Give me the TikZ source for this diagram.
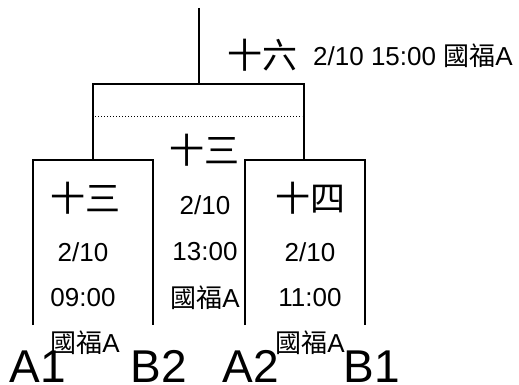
\documentclass[tikz,border=0pt]{standalone}
\usepackage{fontspec}
\setmainfont{Liberation Sans}
\newfontfamily\cjk{Noto Sans CJK TC}
\newcommand{\gf}{{\fontsize{26}{26}\selectfont\cjk 國福}A}
\begin{document}
\begin{tikzpicture}[x=1pt,y=-1pt,
  ln/.style={line width=1.3pt},
  txt/.style={inner sep=0pt,font=\fontsize{26}{26}\selectfont},
  big/.style={inner sep=0pt,font=\fontsize{35}{35}\selectfont\cjk},
  small/.style={inner sep=0pt,font=\fontsize{26}{26}\selectfont},
  huge/.style={inner sep=0pt,anchor=base,font=\fontsize{46}{46}\selectfont}]
\useasboundingbox (0,0) rectangle (519,385);
% bracket
\coordinate (root) at (199,8);
\coordinate (rootb) at (199,84);
\coordinate (bl) at (93,84);
\coordinate (br) at (304,84);
\coordinate (bld) at (93,159);
\coordinate (brd) at (304,159);
\draw[ln] (root) -- (rootb);
\draw[ln] (bld) -- (bl) -- (br) -- (brd);
\coordinate (dl) at (95,117);
\coordinate (dr) at (302,117);
\draw[line width=1pt,dotted] (dl) -- (dr);
% left box
\coordinate (l1) at (33,325);
\coordinate (l2) at (33,160);
\coordinate (l3) at (153,160);
\coordinate (l4) at (153,325);
\draw[ln] (l1) -- (l2) -- (l3) -- (l4);
% right box
\coordinate (r1) at (245,325);
\coordinate (r2) at (245,160);
\coordinate (r3) at (365,160);
\coordinate (r4) at (365,325);
\draw[ln] (r1) -- (r2) -- (r3) -- (r4);
% top label
\node[big] (t16) at (262,55) {十六};
\node[txt,anchor=west] (tdate) at (313,56) {2/10 15:00 \gf};
% center
\node[big] (c13) at (204,150) {十三};
\node[txt] (cd) at (205,205) {2/10};
\node[txt] (ct) at (205,252) {13:00};
\node[txt] (cp) at (205,298) {\gf};
% left
\node[big] (l13) at (85,198) {十三};
\node[txt] (ld) at (83,252) {2/10};
\node[txt] (lt) at (83,298) {09:00};
\node[small] (lp) at (85,343) {\gf};
% right
\node[big] (r14) at (310,198) {十四};
\node[txt] (rd) at (310,252) {2/10};
\node[txt] (rt) at (310,298) {11:00};
\node[small] (rp) at (310,343) {\gf};
% bottom
\node[huge] (a1) at (38,382) {A1};
\node[huge] (b2) at (159,382) {B2};
\node[huge] (a2) at (251,382) {A2};
\node[huge] (b1) at (372,382) {B1};
\end{tikzpicture}
\end{document}
